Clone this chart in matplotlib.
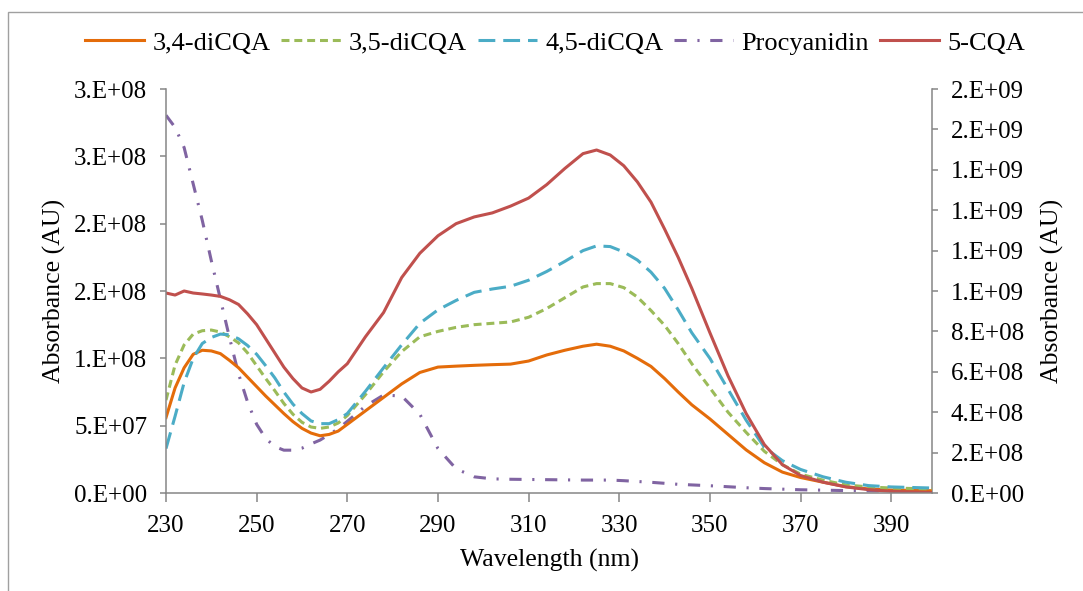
import numpy as np
import matplotlib
matplotlib.use('Agg')
import matplotlib.pyplot as plt
from matplotlib.patches import Rectangle

plt.rcParams['font.family'] = ['Liberation Serif', 'DejaVu Serif']

# wavelength grid (nm)
wavelength = [230, 232, 234, 236, 238, 240, 242, 244, 246, 248, 250, 252, 254, 256, 258,
              260, 262, 264, 266, 268, 270, 274, 278, 282, 286, 290, 294, 298, 302, 306,
              310, 314, 318, 322, 325, 328, 331, 334, 337, 340, 343, 346, 350, 354, 358,
              362, 366, 370, 375, 380, 385, 390, 399]

# left axis series (x 1e8 AU)
cqa34 = [0.56, 0.78, 0.93, 1.03, 1.06, 1.055, 1.035, 0.985, 0.93, 0.86, 0.79, 0.72, 0.655, 0.59, 0.53,
         0.48, 0.445, 0.425, 0.435, 0.46, 0.51, 0.61, 0.71, 0.81, 0.895, 0.935, 0.942, 0.948, 0.953, 0.957,
         0.98, 1.025, 1.06, 1.09, 1.105, 1.09, 1.055, 1.00, 0.94, 0.85, 0.75, 0.655, 0.55, 0.435, 0.32,
         0.225, 0.155, 0.115, 0.08, 0.047, 0.03, 0.022, 0.017]
cqa35 = [0.69, 0.95, 1.10, 1.18, 1.205, 1.21, 1.195, 1.16, 1.115, 1.04, 0.945, 0.85, 0.76, 0.665, 0.585,
         0.525, 0.49, 0.48, 0.49, 0.52, 0.575, 0.73, 0.90, 1.05, 1.16, 1.20, 1.23, 1.25, 1.26, 1.27,
         1.305, 1.37, 1.45, 1.53, 1.555, 1.555, 1.525, 1.455, 1.355, 1.245, 1.11, 0.96, 0.78, 0.60, 0.45,
         0.31, 0.21, 0.14, 0.095, 0.06, 0.045, 0.037, 0.03]
cqa45 = [0.33, 0.57, 0.82, 1.00, 1.11, 1.155, 1.18, 1.175, 1.145, 1.095, 1.03, 0.945, 0.855, 0.75, 0.66,
         0.59, 0.535, 0.515, 0.515, 0.545, 0.59, 0.755, 0.93, 1.10, 1.26, 1.36, 1.43, 1.49, 1.515, 1.535,
         1.58, 1.645, 1.72, 1.80, 1.835, 1.83, 1.79, 1.73, 1.64, 1.52, 1.36, 1.19, 1.00, 0.77, 0.54,
         0.34, 0.24, 0.175, 0.12, 0.08, 0.055, 0.045, 0.037]
cqa5 = [1.485, 1.47, 1.50, 1.485, 1.478, 1.47, 1.46, 1.435, 1.40, 1.33, 1.25, 1.145, 1.04, 0.935, 0.85,
        0.78, 0.75, 0.77, 0.83, 0.90, 0.96, 1.16, 1.34, 1.60, 1.78, 1.91, 2.00, 2.05, 2.08, 2.13,
        2.19, 2.29, 2.41, 2.52, 2.547, 2.51, 2.43, 2.31, 2.16, 1.96, 1.75, 1.52, 1.19, 0.87, 0.59,
        0.36, 0.21, 0.13, 0.08, 0.045, 0.025, 0.012, 0.004]

# right axis series (x 1e9 AU)
procyanidin = [1.87, 1.81, 1.71, 1.53, 1.35, 1.15, 0.96, 0.77, 0.59, 0.45, 0.34, 0.27, 0.23, 0.212, 0.212,
               0.222, 0.243, 0.262, 0.29, 0.318, 0.355, 0.43, 0.485, 0.48, 0.39, 0.22, 0.12, 0.08, 0.07, 0.068,
               0.067, 0.066, 0.065, 0.064, 0.064, 0.064, 0.061, 0.057, 0.053, 0.048, 0.043, 0.04, 0.036, 0.031, 0.026,
               0.022, 0.019, 0.016, 0.014, 0.012, 0.011, 0.01, 0.008]

left_ticks = [0, 5e7, 1e8, 1.5e8, 2e8, 2.5e8, 3e8]
left_labels = ['0.E+00', '5.E+07', '1.E+08', '2.E+08', '2.E+08', '3.E+08', '3.E+08']
right_ticks = [0, 2e8, 4e8, 6e8, 8e8, 1e9, 1.2e9, 1.4e9, 1.6e9, 1.8e9, 2e9]
right_labels = ['0.E+00', '2.E+08', '4.E+08', '6.E+08', '8.E+08', '1.E+09', '1.E+09',
                '1.E+09', '1.E+09', '2.E+09', '2.E+09']
x_ticks = [230, 250, 270, 290, 310, 330, 350, 370, 390]

wl = np.array(wavelength)
fig = plt.figure(figsize=(10.83, 5.91), dpi=100)
ax = fig.add_axes([166/1083, 1-493/591, (932-166)/1083, (493-89)/591])
ax2 = ax.twinx()

lw = 2.2
l1, = ax.plot(wl, np.array(cqa34)*1e8, color='#E46C0A', lw=lw, label='3,4-diCQA')
l2, = ax.plot(wl, np.array(cqa35)*1e8, color='#9BBB59', lw=lw, ls=(0, (2.6, 1.6)), label='3,5-diCQA')
l3, = ax.plot(wl, np.array(cqa45)*1e8, color='#4BACC6', lw=lw, ls=(0, (5.5, 2.6)), label='4,5-diCQA')
l4, = ax2.plot(wl, np.array(procyanidin)*1e9, color='#8064A2', lw=lw, ls=(0, (4, 3.5, 0.7, 3.5)),
               label='Procyanidin')
l5, = ax.plot(wl, np.array(cqa5)*1e8, color='#C0504D', lw=lw, label='5-CQA')
ax.set_zorder(ax2.get_zorder() + 1)
ax.patch.set_visible(False)

ax.set_xlim(230, 399)
ax.set_ylim(0, 3e8)
ax2.set_ylim(0, 2e9)
ax.set_xticks(x_ticks)
ax.set_yticks(left_ticks, left_labels)
ax2.set_yticks(right_ticks, right_labels)

gray = '#868686'
for a in (ax, ax2):
    a.spines['top'].set_visible(False)
    for s in ('left', 'right', 'bottom'):
        a.spines[s].set_color(gray)
        a.spines[s].set_linewidth(1.1)
ax.spines['right'].set_visible(False)
ax2.spines['left'].set_visible(False)
ax2.spines['bottom'].set_visible(False)
ax.tick_params(axis='x', direction='out', length=6.5, width=1.1, color=gray, labelsize=18, pad=9)
ax.tick_params(axis='y', direction='out', length=4.5, width=1.1, color=gray, labelsize=18, pad=9)
ax2.tick_params(axis='y', direction='out', length=4.5, width=1.1, color=gray, labelsize=18, pad=9)

ax.set_xlabel('Wavelength (nm)', fontsize=18.5, labelpad=9)
ax.set_ylabel('Absorbance (AU)', fontsize=18.5, labelpad=6)
ax2.set_ylabel('Absorbance (AU)', fontsize=18.5, labelpad=12)

fig.legend(handles=[l1, l2, l3, l4, l5], loc='center', bbox_to_anchor=(555/1083, 1-43/591), ncol=5,
           frameon=False, fontsize=19, handlelength=2.25, handletextpad=0.3, columnspacing=0.42)

fig.patches.append(Rectangle((8/1083, -0.1), 1.2, 1.1-12/591, transform=fig.transFigure,
                             fill=False, edgecolor='#a0a0a0', lw=1.0))

fig.savefig('out.png', dpi=100)
